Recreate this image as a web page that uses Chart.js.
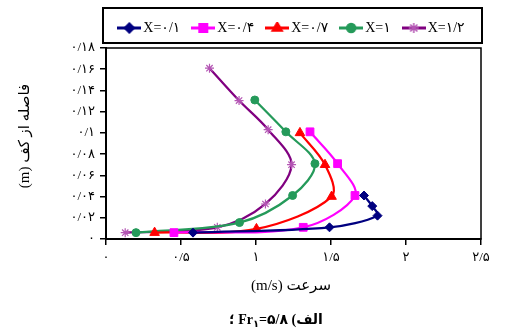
<!DOCTYPE html>
<html>
<head>
<meta charset="utf-8">
<script src="https://cdn.jsdelivr.net/npm/chart.js@4.4.1/dist/chart.umd.min.js"></script>
<style>
html, body { margin: 0; padding: 0; background: #fff; }
#wrap { position: relative; width: 506px; height: 333px; }
#caption {
    position: absolute; left: 176px; width: 200px; top: 311px;
    text-align: center; direction: rtl;
    font: bold 14px "Liberation Serif", "DejaVu Sans", serif; color: #000;
}
#caption sub { font-size: 10px; vertical-align: -3px; }
</style>
</head>
<body>
<div id="wrap">
    <canvas id="velocityChart" width="506" height="333"></canvas>
    <div id="caption" dir="rtl">الف) Fr<sub>۱</sub>=۵/۸ ؛</div>
</div>
<script>
// Series: X ratio for each curve
const ratios = [0.1, 0.4, 0.7, 1, 1.2];

// velocity (m/s) and height above bed (m) per curve
const velocity01 = [0.58, 1.49, 1.81, 1.775, 1.72];
const height01   = [0.006, 0.011, 0.022, 0.031, 0.041];

const velocity04 = [0.453, 1.315, 1.66, 1.544, 1.36];
const height04   = [0.006, 0.011, 0.041, 0.071, 0.101];

const velocity07 = [0.324, 1.003, 1.504, 1.46, 1.293];
const height07   = [0.006, 0.0095, 0.040, 0.070, 0.100];

const velocity10 = [0.2, 0.89, 1.244, 1.393, 1.199, 0.992];
const height10   = [0.006, 0.0155, 0.041, 0.071, 0.101, 0.131];

const velocity12 = [0.128, 0.742, 1.063, 1.237, 1.081, 0.887, 0.69];
const height12   = [0.006, 0.011, 0.033, 0.070, 0.103, 0.1305, 0.161];

// Axis ticks
const xTicks = [0, 0.5, 1, 1.5, 2, 2.5];
const yTicks = [0, 0.02, 0.04, 0.06, 0.08, 0.1, 0.12, 0.14, 0.16, 0.18];

const xTitle = 'سرعت (m/s)';
const yTitle = 'فاصله از کف (m)';

const FONT = '"Liberation Serif", "DejaVu Sans", serif';

// number -> persian digits with "/" as decimal mark
function toFa(v) {
    const s = (Math.round(v * 100) / 100).toString().replace('.', '/');
    return s.replace(/\d/g, d => '۰۱۲۳۴۵۶۷۸۹'[d]);
}

function pairs(xs, ys) {
    return xs.map((x, i) => ({ x: x, y: ys[i] }));
}

const styles = [
    { color: '#000080', marker: '#000080', point: 'rectRot', r: 4.5 },
    { color: '#FF00FF', marker: '#FF00FF', point: 'rect', r: 5.5 },
    { color: '#FF0000', marker: '#FF0000', point: 'triangle', r: 5.5 },
    { color: '#259A5A', marker: '#259A5A', point: 'circle', r: 4 },
    { color: '#800080', marker: '#B455B4', point: 'star', r: 4.5 }
];
const seriesData = [
    pairs(velocity01, height01),
    pairs(velocity04, height04),
    pairs(velocity07, height07),
    pairs(velocity10, height10),
    pairs(velocity12, height12)
];

// small line + marker icon for the legend (excel style)
function legendIcon(st) {
    const c = document.createElement('canvas');
    c.width = 24; c.height = 12;
    const g = c.getContext('2d');
    g.strokeStyle = st.color;
    g.lineWidth = 3;
    g.beginPath(); g.moveTo(0, 6); g.lineTo(24, 6); g.stroke();
    g.fillStyle = st.marker;
    g.strokeStyle = st.marker;
    g.lineWidth = 1.5;
    Chart.helpers.drawPoint(g, { pointStyle: st.point, radius: st.r + 0.5, borderWidth: 1.5, rotation: 0 }, 12, 6);
    return c;
}

const datasets = ratios.map((r, i) => ({
    label: 'X=' + toFa(r),
    data: seriesData[i],
    showLine: true,
    borderColor: styles[i].color,
    backgroundColor: styles[i].marker,
    borderWidth: 2.25,
    tension: 0.33,
    pointStyle: styles[i].point,
    pointRadius: styles[i].r,
    pointBorderColor: styles[i].marker,
    pointBackgroundColor: styles[i].marker,
    pointBorderWidth: styles[i].point === 'star' ? 1.2 : 1
}));

// frame, legend box and rtl axis titles
const decorations = {
    id: 'decorations',
    afterLayout(chart) {
        chart.legend.top -= 3;
        chart.legend.bottom -= 3;
    },
    beforeDatasetsDraw(chart) {
        const { ctx, chartArea: a } = chart;
        ctx.save();
        ctx.strokeStyle = '#000';
        ctx.lineWidth = 1.5;
        ctx.strokeRect(a.left, a.top, a.right - a.left, a.bottom - a.top);
        ctx.restore();
    },
    afterDraw(chart) {
        const { ctx, chartArea: a } = chart;
        ctx.save();
        ctx.strokeStyle = '#000';
        ctx.lineWidth = 2;
        ctx.strokeRect(a.left - 3, 8, a.right - a.left + 4, 35);

        ctx.fillStyle = '#000';
        ctx.font = '15px ' + FONT;
        ctx.direction = 'rtl';
        ctx.textAlign = 'center';
        ctx.textBaseline = 'middle';
        ctx.fillText(xTitle, 291, 286);

        ctx.translate(25, 136);
        ctx.rotate(-Math.PI / 2);
        ctx.fillText(yTitle, 0, 0);
        ctx.restore();
    }
};

const axisCommon = {
    type: 'linear',
    grid: { drawOnChartArea: false, drawTicks: true, tickLength: 6, color: '#000', lineWidth: 1.5 },
    border: { color: '#000', width: 2 },
    ticks: {
        color: '#000',
        autoSkip: false,
        maxRotation: 0,
        font: { family: FONT, size: 13 },
        padding: 5,
        callback: v => toFa(v)
    }
};

new Chart(document.getElementById('velocityChart').getContext('2d'), {
    type: 'scatter',
    data: { datasets: datasets },
    plugins: [decorations],
    options: {
        responsive: false,
        animation: false,
        layout: { padding: { left: 0, right: 25, top: 8, bottom: 0 } },
        plugins: {
            legend: {
                position: 'top',
                fullSize: false,
                align: 'center',
                labels: {
                    usePointStyle: true,
                    pointStyleWidth: 14,
                    padding: 16,
                    color: '#000',
                    font: { family: FONT, size: 14 },
                    generateLabels: chart => chart.data.datasets.map((ds, i) => ({
                        text: ds.label,
                        pointStyle: legendIcon(styles[i]),
                        fillStyle: ds.borderColor,
                        strokeStyle: ds.borderColor,
                        fontColor: '#000',
                        lineWidth: 0,
                        hidden: false,
                        datasetIndex: i
                    }))
                }
            },
            tooltip: { enabled: false }
        },
        scales: {
            x: Object.assign({}, axisCommon, {
                min: 0, max: 2.5,
                afterBuildTicks: s => { s.ticks = xTicks.map(v => ({ value: v })); },
                afterFit: s => { s.height = 94; }
            }),
            y: Object.assign({}, axisCommon, {
                min: 0, max: 0.18,
                afterBuildTicks: s => { s.ticks = yTicks.map(v => ({ value: v })); },
                afterFit: s => { s.width = 106; }
            })
        }
    }
});
</script>
</body>
</html>
